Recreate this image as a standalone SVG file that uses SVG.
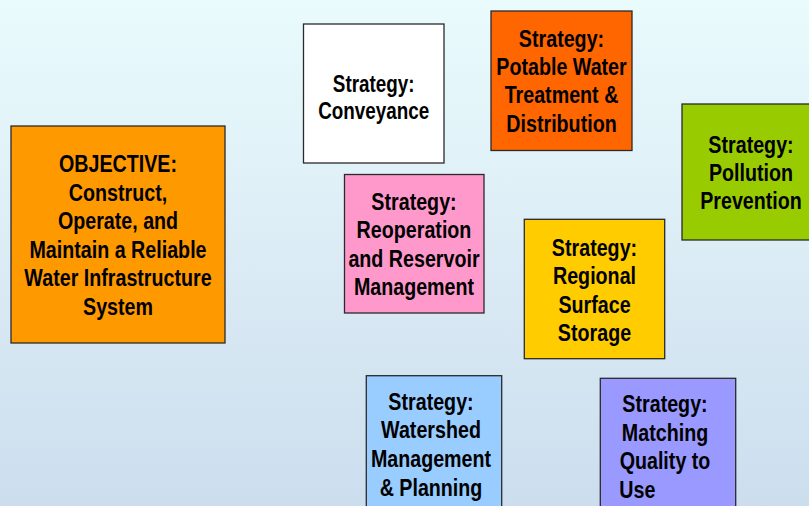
<svg xmlns="http://www.w3.org/2000/svg" width="809" height="506" viewBox="0 0 809 506">
<defs>
<linearGradient id="bg" x1="0" y1="0" x2="0" y2="1">
<stop offset="0" stop-color="#EAFBFD"/>
<stop offset="1" stop-color="#CCDDEE"/>
</linearGradient>
</defs>
<style>
.box{stroke:#2a2a2a;stroke-width:1.3}
.t{font-family:"Liberation Sans",Arial,sans-serif;font-weight:bold;font-size:24px;fill:#000;text-anchor:middle}
.s{text-anchor:start}
</style>
<rect x="0" y="0" width="809" height="506" fill="url(#bg)"/>
<g id="connectors"/>
<g id="objective">
<rect class="box" x="11" y="126" width="214" height="217" fill="#FF9900"/>
<text class="t" transform="matrix(0.82 0 0 1 118 0)"><tspan x="0" y="172">OBJECTIVE:</tspan><tspan x="0" y="201">Construct,</tspan><tspan x="0" y="229.5">Operate, and</tspan><tspan x="0" y="258">Maintain a Reliable</tspan><tspan x="0" y="286.5">Water Infrastructure</tspan><tspan x="0" y="315">System</tspan></text>
</g>
<g id="conveyance">
<rect class="box" x="303.5" y="24" width="140.5" height="139" fill="#FFFFFF"/>
<text class="t" style="font-size:23px" transform="matrix(0.82 0 0 1 373.7 0)"><tspan x="0" y="92">Strategy:</tspan><tspan x="0" y="119">Conveyance</tspan></text>
</g>
<g id="potable">
<rect class="box" x="491" y="11" width="141" height="139.5" fill="#FF6600"/>
<text class="t" transform="matrix(0.82 0 0 1 561.5 0)"><tspan x="0" y="46.7">Strategy:</tspan><tspan x="0" y="75">Potable Water</tspan><tspan x="0" y="103.3">Treatment &amp;</tspan><tspan x="0" y="132">Distribution</tspan></text>
</g>
<g id="pollution">
<rect class="box" x="682" y="104" width="140" height="136" fill="#99CC00"/>
<text class="t" transform="matrix(0.82 0 0 1 751 0)"><tspan x="0" y="152.7">Strategy:</tspan><tspan x="0" y="181">Pollution</tspan><tspan x="0" y="209.3">Prevention</tspan></text>
</g>
<g id="reoperation">
<rect class="box" x="344.5" y="174.5" width="139.5" height="138.5" fill="#FF99CC"/>
<text class="t" transform="matrix(0.82 0 0 1 414 0)"><tspan x="0" y="210">Strategy:</tspan><tspan x="0" y="238.3">Reoperation</tspan><tspan x="0" y="266.7">and Reservoir</tspan><tspan x="0" y="295">Management</tspan></text>
</g>
<g id="regional">
<rect class="box" x="524.3" y="219.3" width="140.4" height="139.4" fill="#FFCC00"/>
<text class="t" transform="matrix(0.82 0 0 1 594.5 0)"><tspan x="0" y="255.7">Strategy:</tspan><tspan x="0" y="284">Regional</tspan><tspan x="0" y="312.7">Surface</tspan><tspan x="0" y="340.7">Storage</tspan></text>
</g>
<g id="watershed">
<rect class="box" x="366.3" y="375.7" width="135.4" height="140" fill="#99CCFF"/>
<text class="t" transform="matrix(0.82 0 0 1 431 0)"><tspan x="0" y="410">Strategy:</tspan><tspan x="0" y="438.3">Watershed</tspan><tspan x="0" y="466.7">Management</tspan><tspan x="0" y="495.7">&amp; Planning</tspan></text>
</g>
<g id="matching">
<rect class="box" x="600.3" y="378.3" width="135.4" height="140" fill="#9999FF"/>
<text class="t" transform="matrix(0.82 0 0 1 665 0)"><tspan x="0" y="411.7">Strategy:</tspan><tspan x="0" y="441">Matching</tspan><tspan x="0" y="469.3">Quality to</tspan></text>
<text class="t s" transform="matrix(0.82 0 0 1 619.3 0)"><tspan x="0" y="498.3">Use</tspan></text>
</g>
</svg>
